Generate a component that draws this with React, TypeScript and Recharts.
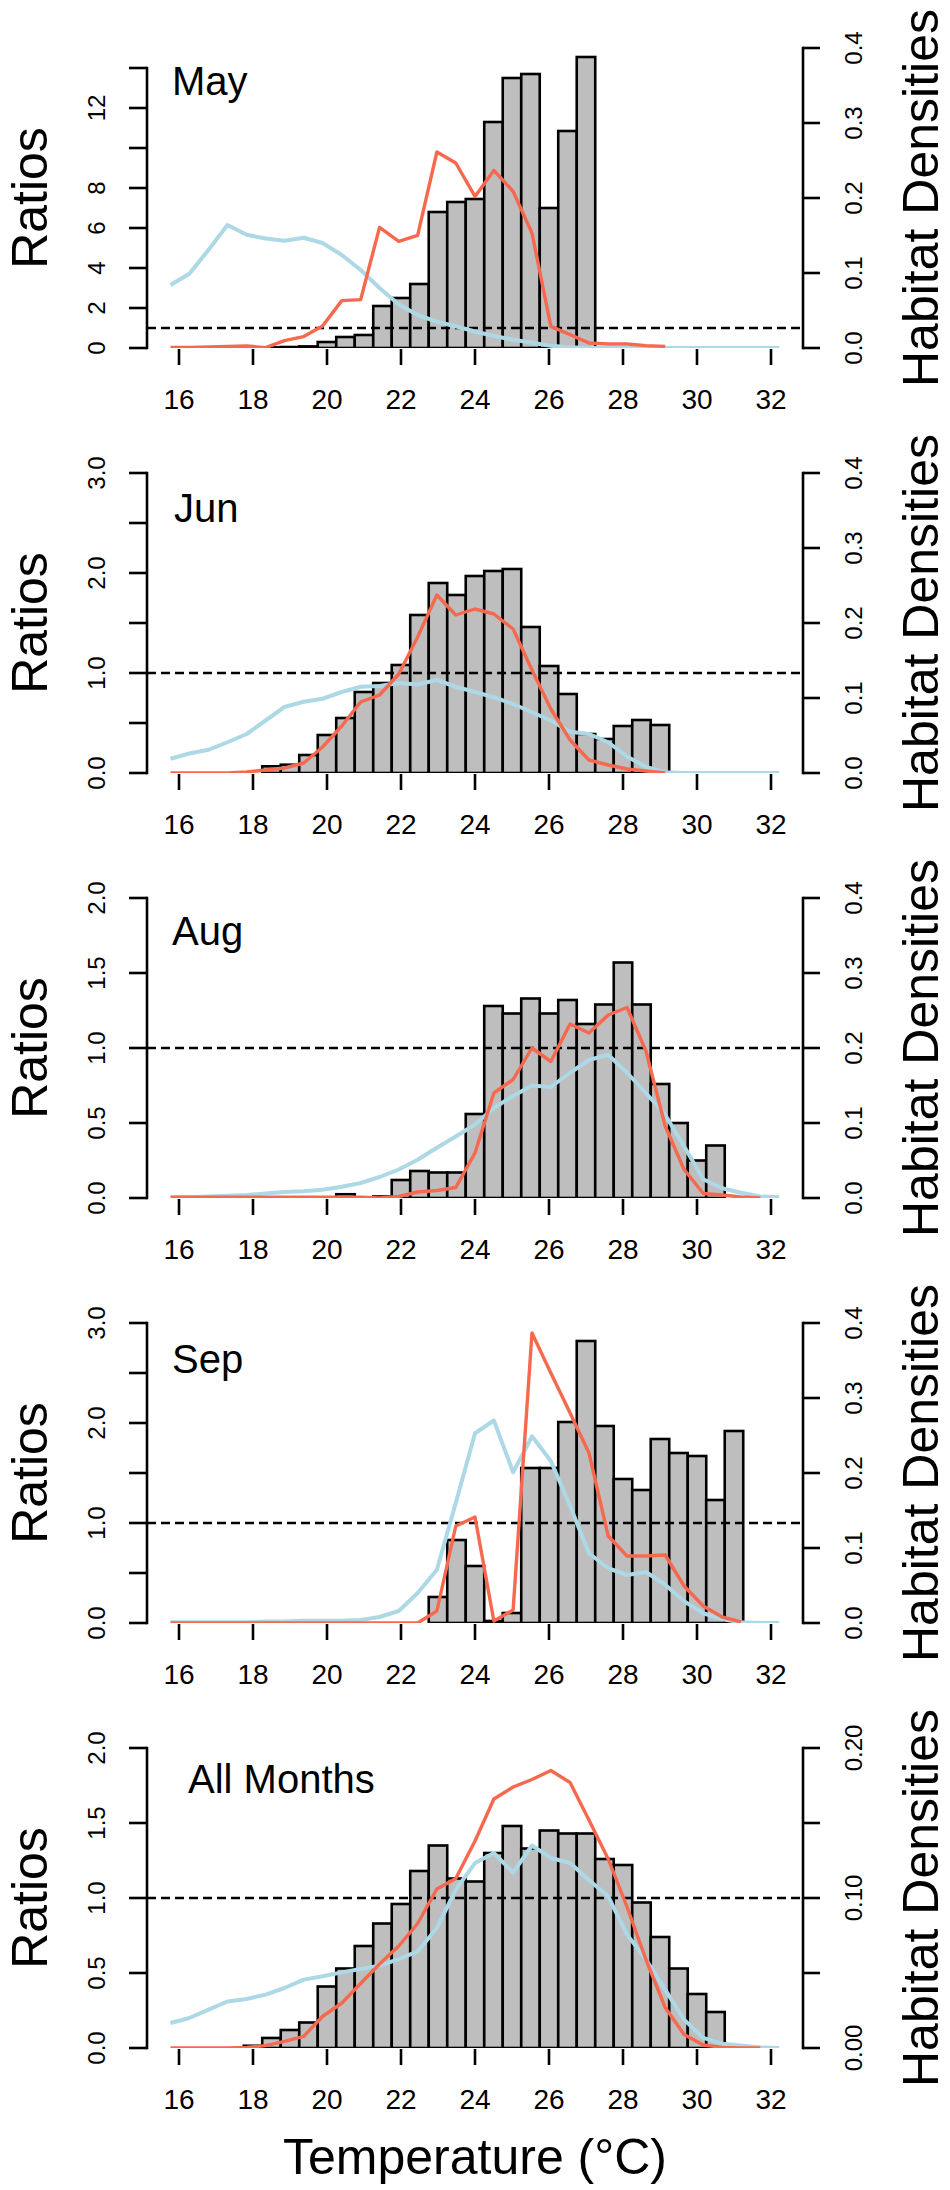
import { ComposedChart, Bar, Line, XAxis, YAxis, ReferenceLine } from 'recharts';

// bin centres of the bars and x positions of the two density curves
const BAR_X = [16, 16.5, 17, 17.5, 18, 18.5, 19, 19.5, 20, 20.5, 21, 21.5, 22, 22.5, 23, 23.5, 24, 24.5, 25, 25.5, 26, 26.5, 27, 27.5, 28, 28.5, 29, 29.5, 30, 30.5, 31, 31.5, 32];
const LINE_X = [15.77, 16.28, 16.8, 17.31, 17.83, 18.34, 18.85, 19.37, 19.88, 20.4, 20.91, 21.42, 21.94, 22.45, 22.97, 23.48, 24.0, 24.51, 25.03, 25.54, 26.05, 26.57, 27.08, 27.6, 28.11, 28.62, 29.14, 29.65, 30.17, 30.68, 31.19, 31.71, 32.22];
const X_TICKS = [16, 18, 20, 22, 24, 26, 28, 30, 32];

const n = null;

// May
const MAY_BARS = [n, n, n, n, n, 0.03, 0.05, 0.08, 0.3, 0.55, 0.65, 2.1, 2.5, 3.2, 6.8, 7.3, 7.45, 11.3, 13.5, 13.7, 7.0, 10.85, 14.55, n, n, n, n, n, n, n, n, n, n];
const MAY_RATIO = [0.03, 0.03, 0.05, 0.08, 0.1, 0.02, 0.37, 0.57, 1.1, 2.37, 2.42, 6.03, 5.33, 5.63, 9.8, 9.25, 7.58, 8.88, 7.83, 5.75, 1.08, 0.67, 0.25, 0.2, 0.2, 0.12, 0.08, n, n, n, n, n, n];
const MAY_HAB = [0.084, 0.099, 0.131, 0.164, 0.151, 0.146, 0.143, 0.147, 0.14, 0.124, 0.104, 0.08, 0.058, 0.044, 0.035, 0.029, 0.022, 0.016, 0.011, 0.007, 0.003, 0.001, 0, 0, 0, 0, 0, 0, 0, 0, 0, 0, 0];

// Jun
const JUN_BARS = [n, n, n, n, n, 0.067, 0.083, 0.18, 0.38, 0.55, 0.81, 0.9, 1.08, 1.58, 1.9, 1.78, 1.97, 2.02, 2.04, 1.46, 1.07, 0.79, 0.39, 0.34, 0.47, 0.53, 0.48, n, n, n, n, n, n];
const JUN_RATIO = [0, 0, 0, 0, 0.01, 0.03, 0.05, 0.1, 0.26, 0.47, 0.71, 0.78, 0.99, 1.36, 1.78, 1.58, 1.64, 1.59, 1.44, 1.03, 0.64, 0.33, 0.13, 0.08, 0.04, 0.02, 0, n, n, n, n, n, n];
const JUN_HAB = [0.019, 0.026, 0.031, 0.041, 0.052, 0.07, 0.088, 0.095, 0.099, 0.108, 0.115, 0.116, 0.12, 0.118, 0.124, 0.115, 0.108, 0.101, 0.092, 0.081, 0.07, 0.055, 0.052, 0.041, 0.022, 0.008, 0.001, 0, 0, 0, 0, 0, 0];

// Aug
const AUG_BARS = [n, n, n, n, n, n, n, n, n, 0.025, n, 0.01, 0.12, 0.18, 0.17, 0.17, 0.56, 1.28, 1.23, 1.33, 1.23, 1.32, 1.16, 1.29, 1.57, 1.29, 0.76, 0.5, 0.25, 0.35, n, n, n];
const AUG_RATIO = [0.005, 0.005, 0.005, 0.005, 0.005, 0.005, 0.005, 0.005, 0.005, 0.005, 0.005, 0, 0.01, 0.04, 0.05, 0.07, 0.3, 0.7, 0.79, 1.0, 0.91, 1.16, 1.1, 1.22, 1.27, 0.98, 0.48, 0.19, 0.03, 0.02, 0.007, 0, n];
const AUG_HAB = [0.001, 0.001, 0.002, 0.003, 0.004, 0.006, 0.008, 0.009, 0.011, 0.015, 0.02, 0.028, 0.038, 0.051, 0.067, 0.082, 0.098, 0.12, 0.136, 0.15, 0.148, 0.167, 0.184, 0.191, 0.167, 0.14, 0.111, 0.069, 0.025, 0.013, 0.007, 0.002, 0.001];

// Sep
const SEP_BARS = [n, n, n, n, n, n, n, n, n, n, n, n, n, n, 0.26, 0.83, 0.57, 0.02, 0.1, 1.55, 1.55, 2.01, 2.82, 1.97, 1.44, 1.33, 1.84, 1.7, 1.67, 1.23, 1.92, n, n];
const SEP_RATIO = [0, 0, 0, 0, 0, 0, 0, 0, 0, 0, 0, 0, 0, 0, 0.12, 0.97, 1.06, 0.02, 0.13, 2.9, 2.5, 2.1, 1.7, 0.87, 0.67, 0.67, 0.68, 0.37, 0.17, 0.06, 0.01, n, n];
const SEP_HAB = [0.001, 0.001, 0.001, 0.001, 0.001, 0.002, 0.002, 0.003, 0.003, 0.003, 0.004, 0.008, 0.016, 0.04, 0.071, 0.16, 0.253, 0.27, 0.201, 0.249, 0.216, 0.156, 0.093, 0.073, 0.064, 0.068, 0.051, 0.029, 0.013, 0.005, 0.001, 0, 0];

// All months
const ALL_BARS = [n, n, n, n, 0.015, 0.067, 0.12, 0.17, 0.41, 0.53, 0.68, 0.83, 0.96, 1.18, 1.35, 1.13, 1.11, 1.3, 1.48, 1.33, 1.45, 1.43, 1.43, 1.26, 1.22, 0.97, 0.74, 0.53, 0.36, 0.24, n, n, n];
const ALL_RATIO = [0, 0, 0, 0, 0.004, 0.016, 0.044, 0.078, 0.21, 0.3, 0.43, 0.56, 0.68, 0.83, 1.06, 1.13, 1.38, 1.66, 1.74, 1.79, 1.85, 1.77, 1.52, 1.26, 0.94, 0.59, 0.27, 0.09, 0.02, 0.004, 0, 0, n];
const ALL_HAB = [0.0167, 0.02, 0.0256, 0.031, 0.0327, 0.0356, 0.04, 0.0456, 0.0478, 0.0504, 0.0527, 0.0549, 0.0593, 0.0644, 0.08, 0.1056, 0.1233, 0.13, 0.117, 0.135, 0.1267, 0.1233, 0.112, 0.101, 0.0756, 0.0589, 0.0389, 0.0189, 0.0067, 0.0029, 0.0016, 0.0004, 0];

// axis ticks and labels
const MAY_LEFT_TICKS = [0, 2, 4, 6, 8, 10, 12, 14];
const MAY_LEFT_LABELS = ['0', '2', '4', '6', '8', '', '12', ''];
const THREE_TICKS = [0, 0.5, 1, 1.5, 2, 2.5, 3];
const THREE_LABELS = ['0.0', '', '1.0', '', '2.0', '', '3.0'];
const TWO_TICKS = [0, 0.5, 1, 1.5, 2];
const TWO_LABELS = ['0.0', '0.5', '1.0', '1.5', '2.0'];
const HAB_TICKS = [0, 0.1, 0.2, 0.3, 0.4];
const HAB_LABELS = ['0.0', '0.1', '0.2', '0.3', '0.4'];
const ALL_HAB_TICKS = [0, 0.05, 0.1, 0.15, 0.2];
const ALL_HAB_LABELS = ['0.00', '', '0.10', '', '0.20'];

// layout (pixels)
const W = 950;
const PANEL_H = 425;
const PLOT_TOP = 48;
const PLOT_H = 300;
const PLOT_BOTTOM = PLOT_TOP + PLOT_H;
const AXIS_L = 147;
const AXIS_R = 803;
const X16 = 179;
const PX_DEG = 37;
const X_MIN = 16 - (X16 - AXIS_L) / PX_DEG;
const X_MAX = 16 + (AXIS_R - X16) / PX_DEG;
const BAR_W = PX_DEG * 0.5;
const TICK_LEN = 18;
const AX_W = 2.6;
const Y_FS = 24;
const X_FS = 28;
const TITLE_FS = 50;
const FONT = '"Liberation Sans", Arial, Helvetica, sans-serif';
const RED = '#F6694E';
const BLUE = '#ADD8E6';

interface Panel {
  label: string;
  labelX: number;
  labelY: number;
  bars: (number | null)[];
  ratio: (number | null)[];
  hab: (number | null)[];
  leftMax: number;
  leftTicks: number[];
  leftLabels: string[];
  rightMax: number;
  rightTicks: number[];
  rightLabels: string[];
}

const PANELS: Panel[] = [
  { label: 'May', labelX: 172, labelY: 95, bars: MAY_BARS, ratio: MAY_RATIO, hab: MAY_HAB, leftMax: 15, leftTicks: MAY_LEFT_TICKS, leftLabels: MAY_LEFT_LABELS, rightMax: 0.4, rightTicks: HAB_TICKS, rightLabels: HAB_LABELS },
  { label: 'Jun', labelX: 174, labelY: 97, bars: JUN_BARS, ratio: JUN_RATIO, hab: JUN_HAB, leftMax: 3, leftTicks: THREE_TICKS, leftLabels: THREE_LABELS, rightMax: 0.4, rightTicks: HAB_TICKS, rightLabels: HAB_LABELS },
  { label: 'Aug', labelX: 172, labelY: 95, bars: AUG_BARS, ratio: AUG_RATIO, hab: AUG_HAB, leftMax: 2, leftTicks: TWO_TICKS, leftLabels: TWO_LABELS, rightMax: 0.4, rightTicks: HAB_TICKS, rightLabels: HAB_LABELS },
  { label: 'Sep', labelX: 172, labelY: 98, bars: SEP_BARS, ratio: SEP_RATIO, hab: SEP_HAB, leftMax: 3, leftTicks: THREE_TICKS, leftLabels: THREE_LABELS, rightMax: 0.4, rightTicks: HAB_TICKS, rightLabels: HAB_LABELS },
  { label: 'All Months', labelX: 188, labelY: 93, bars: ALL_BARS, ratio: ALL_RATIO, hab: ALL_HAB, leftMax: 2, leftTicks: TWO_TICKS, leftLabels: TWO_LABELS, rightMax: 0.2, rightTicks: ALL_HAB_TICKS, rightLabels: ALL_HAB_LABELS },
];

const buildRows = (p: Panel) => {
  const rows: any[] = [];
  BAR_X.forEach((x, i) => rows.push({ x, bar: p.bars[i] }));
  LINE_X.forEach((x, i) => rows.push({ x, ratio: p.ratio[i], hab: p.hab[i] }));
  return rows.sort((a, b) => a.x - b.x);
};

const findLabel = (ticks: number[], labels: string[], v: number) => {
  const i = ticks.findIndex((t) => Math.abs(t - v) < 1e-9);
  return i >= 0 ? labels[i] : '';
};

const BarShape = (props: any) => {
  const { x, y, width, height, payload } = props;
  if (payload == null || payload.bar == null) return null;
  if (!Number.isFinite(height) || height <= 0) return null;
  const cx = x + width / 2;
  return <rect x={cx - BAR_W / 2} y={y} width={BAR_W} height={height} fill="#BEBEBE" stroke="#000" strokeWidth={AX_W} />;
};

const LeftTick = ({ y, payload, p }: any) => {
  const label = findLabel(p.leftTicks, p.leftLabels, payload.value);
  const top = y - (p.leftTicks[p.leftTicks.length - 1] / p.leftMax) * PLOT_H;
  return (
    <g>
      <line x1={AXIS_L - TICK_LEN} x2={AXIS_L} y1={y} y2={y} stroke="#000" strokeWidth={AX_W} />
      {payload.value === 0 && (
        <line x1={AXIS_L} x2={AXIS_L} y1={y + AX_W / 2} y2={top - AX_W / 2} stroke="#000" strokeWidth={AX_W} />
      )}
      {label && (
        <text transform={`translate(${96 + 0.36 * Y_FS},${y}) rotate(-90)`} textAnchor="middle" fontSize={Y_FS} fontFamily={FONT} fill="#000">
          {label}
        </text>
      )}
    </g>
  );
};

const RightTick = ({ y, payload, p }: any) => {
  const label = findLabel(p.rightTicks, p.rightLabels, payload.value);
  const top = y - (p.rightTicks[p.rightTicks.length - 1] / p.rightMax) * PLOT_H;
  return (
    <g>
      <line x1={AXIS_R} x2={AXIS_R + TICK_LEN - 1} y1={y} y2={y} stroke="#000" strokeWidth={AX_W} />
      {payload.value === 0 && (
        <line x1={AXIS_R} x2={AXIS_R} y1={y + AX_W / 2} y2={top - AX_W / 2} stroke="#000" strokeWidth={AX_W} />
      )}
      {label && (
        <text transform={`translate(${853 + 0.36 * Y_FS},${y}) rotate(-90)`} textAnchor="middle" fontSize={Y_FS} fontFamily={FONT} fill="#000">
          {label}
        </text>
      )}
    </g>
  );
};

const BottomTick = ({ x, payload }: any) => (
  <g>
    <line x1={x} x2={x} y1={PLOT_BOTTOM + 1} y2={PLOT_BOTTOM + 17} stroke="#000" strokeWidth={AX_W} />
    <text x={x} y={PLOT_BOTTOM + 61} textAnchor="middle" fontSize={X_FS} fontFamily={FONT} fill="#000">
      {payload.value}
    </text>
  </g>
);

const PanelChart = ({ p }: { p: Panel }) => (
  <ComposedChart width={W} height={PANEL_H} data={buildRows(p)} margin={{ top: PLOT_TOP, right: 0, bottom: 0, left: 0 }}>
    <XAxis
      type="number"
      dataKey="x"
      domain={[X_MIN, X_MAX]}
      allowDataOverflow
      ticks={X_TICKS}
      interval={0}
      height={PANEL_H - PLOT_BOTTOM}
      axisLine={false}
      tickLine={false}
      tick={(props: any) => <BottomTick {...props} />}
    />
    <YAxis
      yAxisId="left"
      orientation="left"
      width={AXIS_L}
      domain={[0, p.leftMax]}
      allowDataOverflow
      ticks={p.leftTicks}
      interval={0}
      axisLine={false}
      tickLine={false}
      tick={(props: any) => <LeftTick {...props} p={p} />}
    />
    <YAxis
      yAxisId="right"
      orientation="right"
      width={W - AXIS_R}
      domain={[0, p.rightMax]}
      allowDataOverflow
      ticks={p.rightTicks}
      interval={0}
      axisLine={false}
      tickLine={false}
      tick={(props: any) => <RightTick {...props} p={p} />}
    />
    <Bar yAxisId="left" dataKey="bar" barSize={BAR_W - 1} shape={(props: any) => <BarShape {...props} />} isAnimationActive={false} />
    <ReferenceLine yAxisId="left" y={1} stroke="#000" strokeWidth={AX_W} strokeDasharray="9 5" />
    <Line yAxisId="right" dataKey="hab" stroke={BLUE} strokeWidth={4} dot={false} activeDot={false} connectNulls strokeLinejoin="round" isAnimationActive={false} />
    <Line yAxisId="left" dataKey="ratio" stroke={RED} strokeWidth={3.4} dot={false} activeDot={false} connectNulls strokeLinejoin="round" isAnimationActive={false} />
  </ComposedChart>
);

export default function App() {
  return (
    <div style={{ position: 'absolute', left: 0, top: 0, width: W, height: 2190, background: '#fff', fontFamily: FONT }}>
      {PANELS.map((p, i) => (
        <div key={p.label} style={{ position: 'absolute', left: 0, top: i * PANEL_H, width: W, height: PANEL_H }}>
          <PanelChart p={p} />
        </div>
      ))}
      <svg width={W} height={2190} style={{ position: 'absolute', left: 0, top: 0, pointerEvents: 'none' }}>
        {PANELS.map((p, i) => {
          const top = i * PANEL_H;
          const mid = top + PLOT_TOP + PLOT_H / 2;
          return (
            <g key={p.label} fontFamily={FONT} fill="#000">
              <text x={p.labelX} y={top + p.labelY} fontSize={40}>{p.label}</text>
              <text transform={`translate(47,${mid}) rotate(-90)`} textAnchor="middle" fontSize={TITLE_FS}>Ratios</text>
              <text transform={`translate(938,${mid}) rotate(-90)`} textAnchor="middle" fontSize={TITLE_FS}>Habitat Densities</text>
            </g>
          );
        })}
        <text x={(X16 + X16 + 16 * PX_DEG) / 2} y={2174} textAnchor="middle" fontSize={TITLE_FS} fontFamily={FONT} fill="#000">
          Temperature (°C)
        </text>
      </svg>
    </div>
  );
}
